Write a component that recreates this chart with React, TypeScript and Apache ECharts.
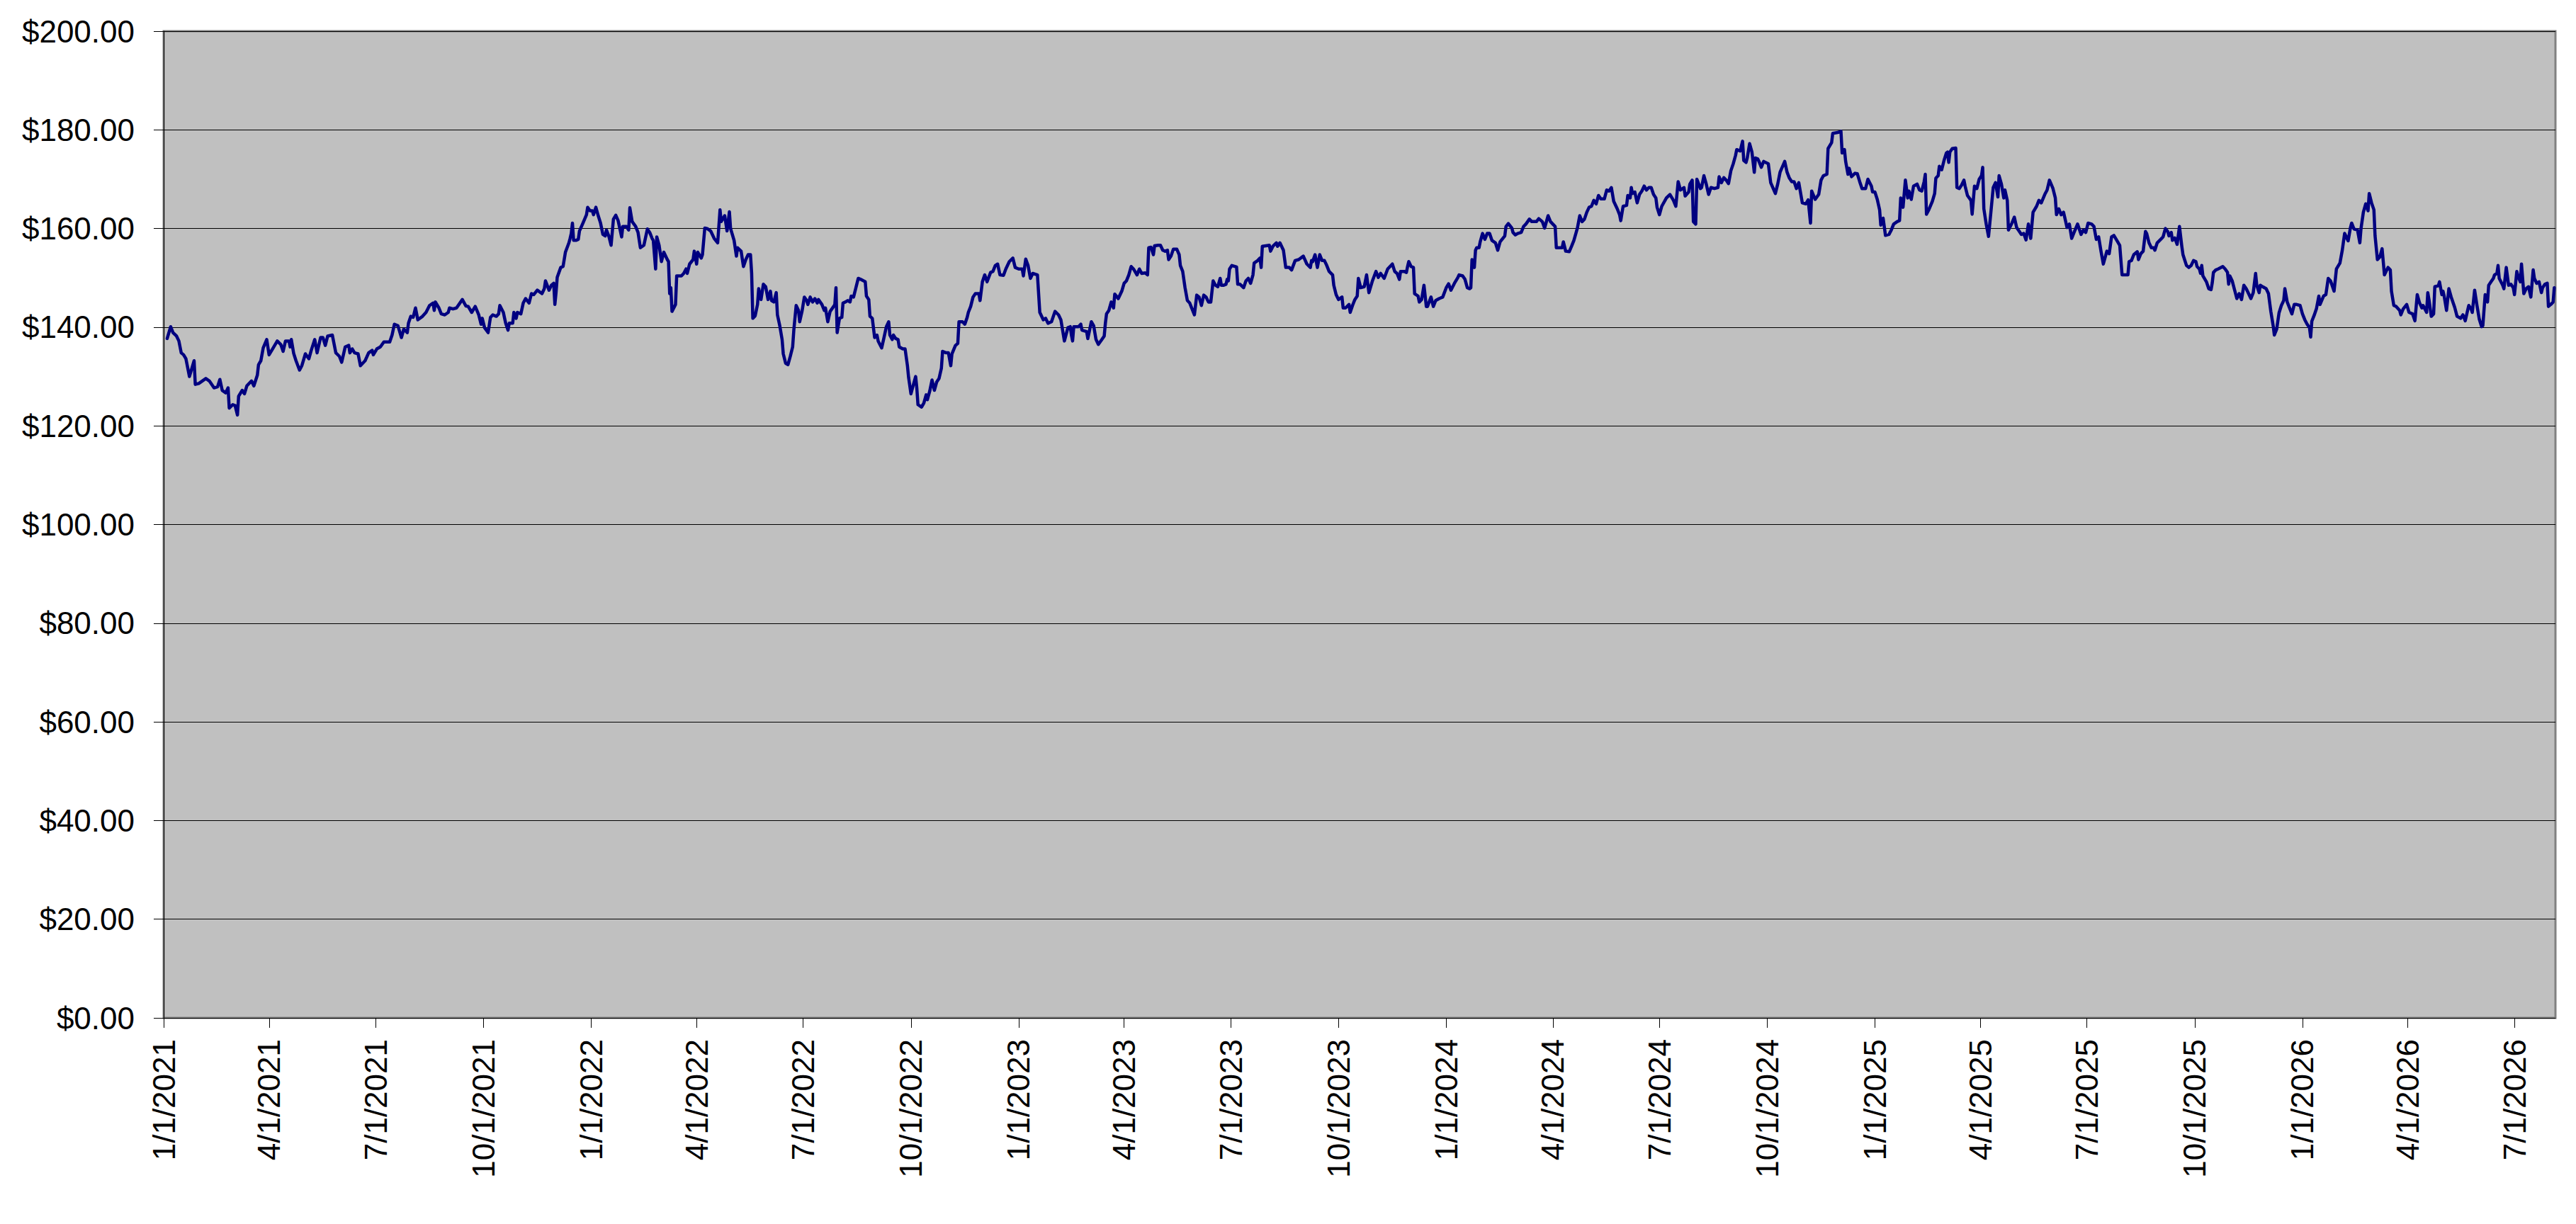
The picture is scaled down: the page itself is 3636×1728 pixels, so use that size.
import React, { useEffect, useRef } from "react";
import * as echarts from "echarts";

// x-axis tick labels (quarter starts)
const tickLabels = [
  "1/1/2021", "4/1/2021", "7/1/2021", "10/1/2021",
  "1/1/2022", "4/1/2022", "7/1/2022", "10/1/2022",
  "1/1/2023", "4/1/2023", "7/1/2023", "10/1/2023",
  "1/1/2024", "4/1/2024", "7/1/2024", "10/1/2024",
  "1/1/2025", "4/1/2025", "7/1/2025", "10/1/2025",
  "1/1/2026", "4/1/2026", "7/1/2026",
];
const axisStartLabel = "1/1/2021";
const axisEndDay = 2042; // ~8/5/2026

// y-axis range
const yMin = 0;
const yMax = 200;
const yStep = 20;

// days since 1/1/2021 of each quote
const tradingDay = [
  3, 6, 8, 11, 13, 15, 17, 19, 22, 26,
  27, 30, 33, 36, 39, 43, 46, 48, 50, 53,
  55, 56, 59, 61, 63, 64, 67, 69, 71, 75,
  77, 80, 81, 83, 85, 88, 90, 93, 97, 100,
  102, 104, 107, 108, 109, 111, 113, 116, 118, 121,
  124, 126, 129, 131, 134, 136, 138, 140, 144, 147,
  150, 152, 155, 158, 159, 161, 163, 166, 168, 170,
  172, 175, 178, 179, 182, 185, 188, 193, 195, 197,
  200, 203, 205, 208, 209, 211, 213, 215, 217, 221,
  224, 227, 230, 231, 232, 235, 237, 240, 243, 244,
  247, 250,
  255, 258, 260, 263, 266, 269, 271, 272, 274, 277,
  279, 281, 284, 286, 287, 290, 292, 294, 295, 298,
  299, 301, 302, 305, 307, 309, 312, 314, 316, 319,
  323, 325, 326, 329, 331, 333, 334, 335, 336, 339,
  341, 343, 346, 347, 348, 349, 350, 352, 354, 355,
  358, 361, 362, 364, 366, 367, 369, 371, 373, 375,
  377, 378, 380, 382, 384, 386, 388, 391, 392, 395,
  397, 398, 400, 403, 405, 407, 410, 413, 415, 417,
  418, 420, 421, 423, 425, 427, 430, 431, 432, 433,
  434, 437, 438, 442, 444, 446, 447, 449, 452, 453,
  455, 456, 459, 460, 462, 464, 467, 470, 473, 475,
  476, 479, 481, 483, 484, 487, 489, 490, 493, 495,
  497, 499, 501, 502, 503, 505, 507, 508, 510,
  512, 514, 516, 518, 519, 521, 523, 524, 526, 528,
  529, 531, 533, 535, 537, 538, 540, 542, 543, 545,
  547, 549, 550, 552, 554, 556, 558, 559, 562, 564,
  565, 567, 569, 572, 573, 574, 575, 577, 579, 580,
  582, 584, 586, 587, 589, 591, 593, 595, 599, 600,
  602, 603, 605, 607, 609, 610, 613, 615, 617, 619,
  620, 622, 623, 625, 627, 628, 631, 633, 635, 636,
  638, 639, 642, 643, 644, 647, 649, 651, 652, 654,
  656, 658, 660, 662, 664, 665, 668, 670, 672, 673,
  676, 678, 679, 682, 684, 686, 687, 689, 691, 693,
  696, 697, 699, 701, 703, 706, 708, 710, 712, 714,
  717, 719, 722, 725, 727, 730, 733, 734, 736, 738,
  740, 742, 746, 748, 749, 751, 753, 755, 758, 761,
  764, 766,
  769, 772, 774, 775, 776, 777, 781, 783, 784, 788,
  789, 792, 794, 796, 798, 801, 803, 804, 805, 807,
  809, 811, 812, 815, 818, 820, 822, 824, 826, 828,
  831, 833, 835, 838, 840, 841, 843, 845, 846, 849,
  851, 853, 855, 857, 858, 860, 862, 865, 867, 868,
  870, 872, 874, 876, 878, 880, 882, 884, 886, 888,
  890, 892, 894, 896, 898, 900, 902, 903, 905, 907,
  908, 909, 910, 912, 916, 917, 919, 922, 924, 926,
  928, 930, 931, 934, 936, 937, 938, 941, 944, 945,
  947, 950, 951, 953, 956, 958, 961, 963, 966, 969,
  973, 976, 979, 980, 981, 983, 985, 987, 989, 991,
  993, 995, 998, 999, 1001, 1003, 1006, 1007, 1009, 1012,
  1013, 1015, 1017, 1019, 1020, 1022, 1025,
  1027, 1029, 1032, 1035, 1037, 1039, 1042, 1045, 1047, 1049,
  1051, 1053, 1055, 1056, 1059, 1061, 1062, 1063, 1065, 1067,
  1068, 1071, 1072, 1074, 1076, 1078, 1079, 1082, 1084, 1086,
  1089, 1092, 1095, 1097, 1099, 1102, 1105, 1106, 1109, 1111,
  1113, 1115, 1116, 1117, 1119, 1120, 1121, 1123, 1124, 1126,
  1128, 1130, 1132, 1134, 1137, 1139, 1141, 1145, 1146, 1148,
  1151, 1152, 1154, 1156, 1159, 1161, 1163, 1166, 1168, 1172,
  1174, 1177, 1179, 1182, 1184, 1186, 1188, 1189, 1191, 1194,
  1195, 1197, 1200, 1202, 1204, 1207, 1209, 1211, 1213, 1215,
  1217, 1219, 1221, 1223, 1225, 1227, 1230, 1232, 1234, 1236,
  1238, 1241, 1243, 1244, 1246, 1249, 1250, 1252, 1253, 1254,
  1256, 1258, 1260, 1262, 1264, 1266, 1268, 1270, 1272, 1274,
  1275, 1277, 1279,
  1283, 1286, 1289, 1291, 1293, 1295, 1298, 1299, 1302, 1303,
  1305, 1306, 1308, 1309, 1312, 1313, 1315, 1317, 1319, 1321,
  1324, 1327, 1328, 1330, 1332, 1334, 1336, 1338, 1340, 1342,
  1343, 1346, 1348, 1349, 1351, 1352, 1354, 1356, 1358, 1359,
  1361, 1362, 1364, 1366, 1370, 1372, 1376, 1378, 1380, 1384,
  1386, 1388, 1390, 1392, 1394, 1396, 1399, 1402, 1404, 1406,
  1407, 1410, 1413, 1415, 1417, 1420, 1421, 1424, 1425, 1430,
  1432, 1433, 1435, 1436, 1438, 1439, 1441, 1444, 1446, 1448,
  1450, 1453, 1455, 1458, 1459, 1461, 1463, 1465, 1466, 1468,
  1470, 1473, 1475, 1477, 1480, 1482, 1483, 1485, 1487, 1489,
  1490, 1492, 1494, 1497, 1499, 1501, 1503, 1504, 1505, 1507,
  1510, 1512, 1513, 1515, 1516, 1518, 1520, 1522, 1523, 1524,
  1525, 1527, 1530, 1531, 1533, 1535, 1537,
  1538, 1540, 1543, 1544, 1546, 1548, 1550, 1552, 1553, 1554,
  1556, 1558, 1560, 1562, 1564, 1566, 1567, 1569, 1571, 1572,
  1574, 1575, 1578, 1580, 1582, 1584, 1586, 1588, 1590, 1592,
  1594, 1596, 1599, 1601, 1603, 1606, 1608, 1610, 1613, 1615,
  1616, 1618, 1620, 1622, 1623, 1625, 1627, 1629, 1631, 1634,
  1637, 1639, 1641, 1643, 1646, 1648, 1650, 1652, 1654, 1656,
  1659, 1661, 1663, 1665, 1667, 1670, 1672, 1674, 1677, 1678,
  1680, 1682, 1685, 1686, 1688, 1690, 1692, 1693, 1695, 1697,
  1699, 1700, 1702, 1705, 1707, 1709, 1711, 1712, 1714, 1715,
  1717, 1719, 1721, 1723, 1724, 1727, 1729, 1731, 1733, 1735,
  1736, 1738, 1739, 1740, 1741, 1744, 1746, 1748, 1749, 1750,
  1752, 1754, 1758, 1760, 1762, 1763, 1764, 1766, 1768, 1770,
  1772, 1774, 1776, 1778, 1780, 1782, 1784, 1786, 1787, 1789,
  1790, 1792, 1795,
  1797, 1799, 1801, 1802, 1804, 1806, 1808, 1810, 1811, 1813,
  1817, 1819, 1821, 1824, 1826, 1828, 1830, 1832, 1833, 1834,
  1836, 1838, 1840, 1841, 1844, 1846, 1848, 1850, 1853, 1855,
  1858, 1860, 1862, 1865, 1867, 1868, 1870, 1873, 1875, 1876,
  1878, 1880, 1882, 1883, 1885, 1887, 1888, 1890, 1892, 1894,
  1896, 1899, 1901, 1902, 1904, 1906, 1909, 1910, 1912, 1915,
  1917, 1920, 1922, 1924, 1926, 1928, 1929, 1932, 1933, 1934,
  1936, 1938, 1939, 1942, 1943, 1945, 1946, 1947, 1949, 1951,
  1953, 1956, 1958, 1961, 1963, 1965, 1967, 1968, 1970, 1971,
  1973, 1975, 1977, 1979, 1980, 1982, 1984, 1985, 1987, 1989,
  1990, 1992, 1993, 1994, 1997, 1998, 2000, 2002, 2004, 2006,
  2007, 2009, 2010, 2012, 2013, 2015, 2017, 2019, 2021, 2023,
  2024, 2026, 2028, 2030, 2031, 2033, 2035, 2036, 2038, 2040,
  2041,
];

// price of each quote ($)
const price = [
  137.7, 140.1, 138.9, 138.2, 137.2, 134.8, 134.4, 133.6, 130.0, 133.2,
  128.4, 128.6, 129.1, 129.6, 129.1, 127.7, 127.9, 129.4, 127.2, 126.7,
  127.7, 123.6, 124.3, 124.1, 122.2, 126.0, 127.2, 126.5, 128.1, 129.1,
  128.1, 130.3, 132.4, 133.2, 135.8, 137.5, 134.4, 135.6, 137.2, 136.5,
  135.1, 137.2, 137.2, 136.0, 137.5, 134.7, 133.2, 131.3, 132.2, 134.6,
  133.6, 135.3, 137.5, 134.8, 137.9, 137.9, 136.3, 138.2, 138.4, 134.8,
  134.1, 132.9, 136.0, 136.3, 134.8, 135.6, 134.8, 134.6, 132.2, 132.7,
  133.2, 134.8, 135.3, 134.4, 135.6, 136.0, 137.0, 137.0, 138.4, 140.6,
  140.3, 137.9, 139.6, 138.9, 140.8, 142.2, 142.0, 143.9, 141.5, 142.2,
  143.0, 144.4, 144.9, 143.4, 145.1, 143.9, 142.7, 142.5, 143.0, 143.9,
  143.7, 143.9,
  145.6, 144.3, 144.2, 143.0, 144.2, 142.5, 140.6, 141.8, 139.9, 138.9,
  142.0, 142.5, 142.2, 142.7, 144.4, 143.0, 140.8, 139.4, 140.8, 140.8,
  143.0, 141.8, 143.0, 142.7, 144.9, 145.8, 144.9, 146.8, 146.6, 147.5,
  146.8, 147.8, 149.4, 147.5, 148.5, 148.9, 144.6, 147.0, 150.1, 152.1,
  152.3, 155.2, 157.1, 158.0, 159.0, 161.1, 157.6, 157.6, 157.8, 159.5,
  161.1, 162.8, 164.3, 163.6, 163.6, 162.8, 164.3, 162.6, 161.1, 158.8,
  158.5, 159.7, 158.5, 156.6, 161.9, 162.7, 161.6, 158.3, 160.4, 160.4,
  159.7, 164.2, 161.4, 160.4, 159.2, 156.1, 156.6, 159.9, 159.2, 158.0,
  157.6, 151.8, 158.3, 156.6, 153.3, 155.2, 153.7, 153.3, 146.8, 148.0,
  143.2, 144.6, 150.4, 150.4, 150.9, 151.8, 150.9, 152.8, 153.7, 155.4,
  152.8, 155.2, 154.0, 154.7, 160.1, 160.0, 159.5, 158.0, 157.1, 163.8,
  161.4, 162.6, 159.5, 163.4, 160.0, 157.6, 154.4, 156.1, 155.4, 152.3,
  153.7, 154.7, 154.7, 150.9, 141.8, 142.3, 144.6, 147.8, 145.6,
  148.7, 148.2, 145.6, 147.3, 145.4, 145.1, 147.0, 142.5, 140.3, 137.5,
  134.6, 132.7, 132.4, 134.1, 136.0, 139.4, 144.4, 143.4, 141.1, 143.2,
  146.1, 145.4, 144.6, 146.1, 145.1, 145.8, 144.9, 145.6, 144.6, 143.4,
  143.9, 141.1, 143.2, 144.2, 144.6, 148.0, 138.9, 141.8, 142.0, 144.9,
  145.1, 145.4, 145.1, 146.3, 146.1, 148.0, 149.9, 149.7, 149.2, 146.3,
  145.6, 142.2, 141.8, 137.9, 138.4, 137.2, 135.8, 137.9, 140.1, 141.1,
  138.4, 137.5, 138.4, 137.7, 137.5, 136.0, 135.6, 135.6, 132.2, 129.8,
  126.5, 127.4, 130.0, 127.7, 124.3, 123.8, 124.6, 126.3, 125.3, 127.0,
  129.3, 127.2, 128.9, 129.6, 131.7, 135.1, 134.8, 134.8, 132.2, 134.6,
  136.3, 136.7, 141.1, 141.1, 140.6, 142.0, 143.0, 144.2, 146.1, 146.8,
  146.8, 145.4, 149.2, 150.6, 149.2, 151.1, 151.3, 152.5, 152.8, 150.6,
  150.5, 151.8, 153.3, 154.0, 152.1, 151.8, 151.8, 150.4, 153.8, 152.5,
  149.9, 150.9, 150.6, 143.0, 142.5, 141.5, 141.8, 140.8, 141.1, 143.2,
  142.5, 141.5,
  137.2, 139.9, 140.1, 138.4, 137.2, 140.1, 140.1, 140.6, 139.4, 139.1,
  137.7, 141.1, 140.3, 137.5, 136.5, 137.5, 138.2, 140.8, 142.7, 143.4,
  145.1, 143.9, 146.7, 145.8, 147.3, 148.9, 149.4, 150.6, 152.3, 151.8,
  150.6, 151.8, 150.9, 151.0, 150.6, 156.1, 156.2, 154.7, 156.5, 156.6,
  156.6, 155.6, 155.4, 155.6, 153.7, 154.4, 155.8, 155.8, 154.7, 152.5,
  151.3, 148.0, 145.4, 144.9, 143.7, 142.5, 146.5, 146.1, 144.4, 146.5,
  146.1, 145.1, 145.1, 149.4, 148.5, 148.2, 149.9, 148.5, 148.5, 148.7,
  149.7, 149.4, 151.8, 152.5, 152.2, 148.7, 148.7, 148.0, 149.4, 149.9,
  148.9, 150.6, 153.0, 153.5, 154.0, 152.1, 156.4, 156.5, 156.6, 155.4,
  156.4, 157.1, 156.4, 157.1, 155.6, 152.1, 152.1, 151.6, 153.5, 153.7,
  154.4, 152.8, 152.1, 153.5, 153.3, 154.7, 152.1, 154.7, 153.5, 153.5,
  152.5, 151.3, 150.6, 148.5, 146.6, 145.6, 146.1, 143.9, 143.9, 144.6,
  143.0, 144.4, 145.6, 146.3, 149.9, 148.0, 148.2,
  150.6, 147.0, 149.4, 151.3, 150.1, 150.9, 149.9, 151.8, 152.3, 152.8,
  151.3, 150.9, 149.7, 151.3, 151.3, 151.1, 152.3, 153.3, 152.3, 152.1,
  146.8, 146.3, 145.1, 145.6, 148.5, 144.2, 144.2, 146.1, 144.2, 145.4,
  145.8, 146.1, 148.0, 148.8, 147.5, 148.9, 150.1, 150.6, 150.4, 149.7,
  148.0, 147.8, 148.0, 153.7, 152.1, 155.6, 156.1, 156.1, 157.3, 159.0,
  157.8, 159.0, 159.0, 157.6, 157.1, 155.6, 157.3, 158.5, 160.4, 161.0,
  160.1, 159.2, 158.7, 159.0, 159.2, 160.4, 160.9, 161.9, 161.4, 161.4,
  162.0, 161.4, 160.1, 162.6, 161.4, 160.9, 160.4, 156.1, 156.1, 156.1,
  157.3, 155.4, 155.3, 156.4, 157.6, 160.1, 162.6, 161.4, 161.9, 163.3,
  164.3, 164.5, 165.7, 165.0, 166.7, 166.0, 166.0, 167.8, 167.6, 168.3,
  165.5, 164.0, 162.8, 161.6, 164.5, 164.7, 166.7, 166.2, 168.3, 167.1,
  167.4, 165.2, 166.9, 167.6, 168.6, 167.8, 168.3, 168.3, 166.9, 166.2,
  164.3, 162.8, 164.5,
  166.2, 166.9, 165.7, 164.5, 169.5, 167.8, 168.3, 166.6, 167.4, 169.0,
  169.8, 161.4, 160.9, 170.0, 168.1, 168.3, 170.7, 169.0, 166.9, 168.3,
  168.1, 168.3, 170.5, 169.3, 170.3, 169.8, 169.1, 171.7, 173.1, 174.8,
  176.0, 175.7, 177.7, 173.8, 173.4, 174.3, 177.2, 175.5, 171.4, 174.3,
  174.1, 173.6, 172.4, 173.6, 173.1, 169.3, 167.1, 169.0, 171.4, 173.6,
  171.4, 170.2, 169.5, 169.5, 168.1, 169.3, 165.2, 165.0, 165.8, 161.1,
  167.6, 165.9, 166.9, 169.8, 170.7, 171.0, 176.2, 177.4, 179.3, 179.5,
  179.7, 175.3, 176.0, 173.6, 171.0, 172.2, 170.5, 171.2, 171.1, 169.5,
  168.1, 168.1, 170.0, 168.6, 167.4, 167.4, 165.9, 163.8, 160.7, 162.1,
  158.6, 158.8, 159.7, 160.9, 161.4, 161.6, 166.2, 164.3, 169.8, 166.2,
  167.6, 165.9, 168.6, 169.0, 167.8, 167.6, 169.5, 171.0, 162.9, 163.8,
  165.5, 167.1, 170.2, 170.7, 172.6, 171.9, 173.8, 175.3, 175.5, 173.4,
  175.5, 176.2, 176.3, 168.3, 168.1, 168.8, 169.8,
  168.6, 166.7, 165.7, 162.9, 168.6, 168.1, 170.0, 170.7, 172.4, 164.0,
  160.9, 158.4, 163.3, 168.3, 169.3, 166.4, 170.7, 169.0, 166.2, 167.8,
  165.7, 159.7, 161.1, 162.3, 160.2, 159.5, 158.8, 159.0, 157.7, 160.9,
  158.0, 163.3, 164.5, 165.7, 165.2, 166.9, 167.8, 169.8, 168.1, 166.2,
  162.8, 164.0, 162.8, 163.3, 162.3, 160.2, 160.9, 158.0, 159.2, 160.9,
  158.8, 159.7, 159.2, 161.1, 160.9, 160.4, 157.8, 158.3, 155.4, 152.8,
  155.4, 154.9, 158.3, 158.6, 157.8, 156.6, 150.6, 150.6, 150.6, 153.3,
  153.5, 154.7, 155.3, 153.7, 154.9, 155.4, 159.4, 159.0, 157.1, 156.1,
  156.1, 155.6, 157.1, 157.8, 158.3, 160.0, 159.4, 158.5, 159.2, 157.6,
  158.1, 156.8, 160.4, 156.4, 154.7, 152.5, 152.1, 152.5, 153.5, 153.3,
  152.3, 151.8, 150.9, 152.5, 150.4, 149.2, 147.8, 147.6, 149.0, 151.1,
  151.6, 151.8, 152.3, 151.8, 151.1, 148.7, 150.4, 149.4, 147.6, 145.8,
  146.8, 145.6, 148.5, 147.8, 146.8, 145.8, 147.0, 150.9, 148.5, 147.0,
  148.5, 148.2, 147.8,
  146.8, 143.2, 140.3, 138.4, 139.6, 142.9, 144.4, 145.4, 147.8, 145.1,
  142.7, 144.6, 144.6, 144.4, 142.7, 141.5, 140.6, 139.9, 138.0, 141.2,
  142.4, 143.8, 146.3, 144.6, 146.3, 146.6, 149.9, 149.4, 147.3, 151.8,
  153.0, 155.6, 159.0, 157.5, 160.2, 161.1, 159.9, 159.7, 157.1, 160.0,
  163.3, 165.0, 163.6, 167.1, 165.2, 163.8, 158.5, 153.7, 154.2, 155.9,
  150.6, 152.1, 151.6, 147.3, 144.4, 144.2, 143.4, 142.5, 143.7, 144.6,
  143.0, 142.7, 141.3, 146.6, 144.9, 143.9, 144.4, 143.0, 147.0, 145.6,
  142.2, 142.7, 148.2, 148.4, 149.2, 146.6, 147.3, 146.3, 143.4, 147.8,
  146.1, 144.0, 142.2, 141.8, 142.5, 141.3, 143.4, 144.4, 143.7, 143.0,
  147.5, 144.4, 141.6, 140.1, 140.3, 146.6, 145.1, 148.5, 149.2, 149.9,
  150.6, 150.9, 152.5, 149.9, 148.5, 147.8, 152.1, 148.5, 148.7, 148.0,
  146.6, 151.3, 150.4, 149.2, 152.8, 146.8, 147.8, 148.2, 146.1, 151.6,
  149.9, 148.9, 149.2, 147.0, 148.0, 148.7, 148.9, 144.2, 144.6, 145.1,
  148.0,
];

const DAY_MS = 86400000;
function labelToDay(label: string): number {
  const [m, d, y] = label.split("/").map(Number);
  const [m0, d0, y0] = axisStartLabel.split("/").map(Number);
  return Math.round((Date.UTC(y, m - 1, d) - Date.UTC(y0, m0 - 1, d0)) / DAY_MS);
}
const tickDays = tickLabels.map(labelToDay);

const FONT = '"Liberation Sans", Arial, Helvetica, sans-serif';

export default function App() {
  const ref = useRef<HTMLDivElement>(null);

  useEffect(() => {
    if (!ref.current) return;
    const chart = echarts.init(ref.current, null, { renderer: "svg" });
    const n = Math.min(tradingDay.length, price.length);
    const data: [number, number][] = [];
    for (let i = 0; i < n; i++) data.push([tradingDay[i], price[i]]);

    chart.setOption({
      animation: false,
      backgroundColor: "#ffffff",
      textStyle: { fontFamily: FONT },
      grid: {
        left: 231,
        top: 44,
        right: 29,
        bottom: 291,
        show: true,
        backgroundColor: "#C0C0C0",
        borderColor: "#808080",
        borderWidth: 3,
        containLabel: false,
        outerBoundsMode: "none",
      },
      xAxis: {
        type: "value",
        min: 0,
        max: axisEndDay,
        axisLine: { show: true, onZero: false, lineStyle: { color: "#000000", width: 1 } },
        axisTick: {
          show: true,
          customValues: tickDays,
          length: 14,
          inside: false,
          lineStyle: { color: "#000000", width: 1 },
        },
        axisLabel: {
          show: true,
          customValues: tickDays,
          rotate: 90,
          margin: 30,
          fontSize: 44,
          fontFamily: FONT,
          color: "#000000",
          formatter: (v: number) => {
            const i = tickDays.indexOf(Math.round(v));
            return i >= 0 ? tickLabels[i] : "";
          },
        },
        splitLine: { show: false },
      },
      yAxis: {
        type: "value",
        min: yMin,
        max: yMax,
        interval: yStep,
        axisLine: { show: true, lineStyle: { color: "#000000", width: 1 } },
        axisTick: { show: true, length: 14, inside: false, lineStyle: { color: "#000000", width: 1 } },
        axisLabel: {
          margin: 41,
          fontSize: 44,
          fontFamily: FONT,
          color: "#000000",
          formatter: (v: number) => "$" + v.toFixed(2),
        },
        splitLine: { show: true, lineStyle: { color: "#000000", width: 1 } },
      },
      series: [
        {
          type: "line",
          data,
          showSymbol: false,
          symbol: "none",
          silent: true,
          lineStyle: { color: "#000080", width: 4.5, join: "round", cap: "round" },
        },
      ],
    });

    return () => chart.dispose();
  }, []);

  return (
    <div
      ref={ref}
      style={{ position: "absolute", left: 0, top: 0, width: 3636, height: 1728 }}
    />
  );
}
